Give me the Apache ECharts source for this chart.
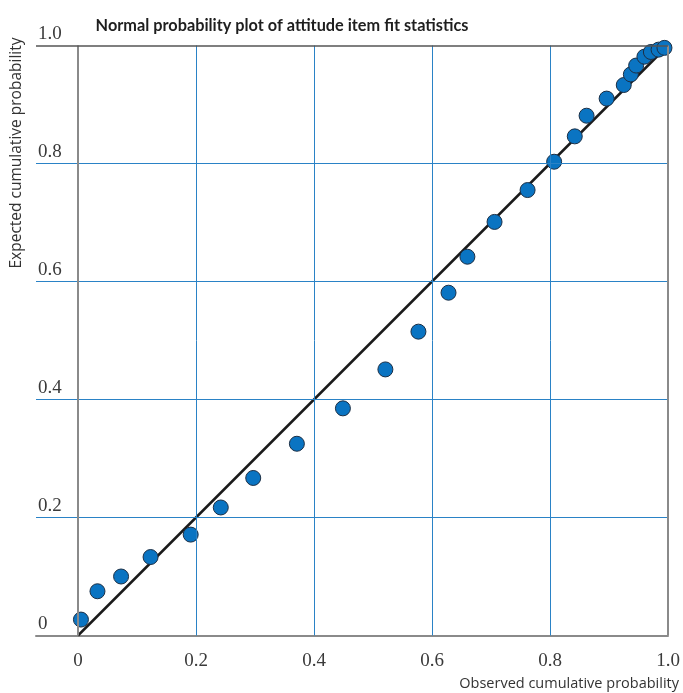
<!DOCTYPE html>
<html>
<head>
<meta charset="utf-8">
<script src="https://cdn.jsdelivr.net/npm/echarts@6/dist/echarts.min.js"></script>
<style>html,body{margin:0;padding:0;background:#fff}#c{width:683px;height:693px}</style>
</head>
<body>
<div id="c"></div>
<script>
var observed = [0.005,0.033,0.073,0.123,0.191,0.242,0.297,0.371,0.449,0.521,0.577,0.628,0.660,0.706,0.762,0.807,0.842,0.862,0.896,0.925,0.937,0.946,0.960,0.971,0.984,0.994];
var expected = [0.027,0.075,0.100,0.133,0.171,0.217,0.267,0.325,0.385,0.451,0.515,0.581,0.642,0.701,0.755,0.803,0.846,0.881,0.910,0.933,0.951,0.966,0.981,0.989,0.993,0.996];
var tickValues = [0, 0.2, 0.4, 0.6, 0.8, 1.0];
var innerGrid = [0.2, 0.4, 0.6, 0.8];
var refLine = [[0, 0], [1, 1]];
var titleText = 'Normal probability plot of attitude item fit statistics';
var xName = 'Observed cumulative probability';
var yName = 'Expected cumulative probability';

var fmt = function (v) { return v === 0 ? '0' : v.toFixed(1); };
var blue = '#2a82c6';
var gray = '#8a8a8a';

var pts = observed.map(function (x, i) { return [x, expected[i]]; });

var vLines = innerGrid.map(function (v) { return { xAxis: v }; });
var hLines = innerGrid.map(function (v) { return { yAxis: v }; });

var chart = echarts.init(document.getElementById('c'), null, { renderer: 'canvas' });
chart.setOption({
  animation: false,
  backgroundColor: '#fff',
  title: {
    text: titleText,
    left: 277, top: 13, textAlign: 'center',
    textStyle: { fontFamily: 'Lato, sans-serif', fontWeight: 'bold', fontSize: 16.3, color: '#1e1e1e' }
  },
  grid: { left: 36, right: 15, top: 45.5, bottom: 57.5 },
  xAxis: {
    type: 'value',
    min: -42 / 590, max: 1,
    axisLine: { show: true, lineStyle: { color: gray, width: 2 } },
    axisTick: { show: false },
    splitLine: { show: false },
    axisLabel: {
      customValues: tickValues,
      formatter: fmt,
      margin: 16,
      fontFamily: '"Liberation Serif", serif', fontSize: 19, color: '#3a3a3a'
    }
  },
  yAxis: {
    type: 'value',
    min: 0, max: 1, interval: 0.2,
    axisLine: { show: false },
    axisTick: { show: false },
    splitLine: { show: false },
    axisLabel: {
      inside: true, margin: 2, align: 'left', verticalAlign: 'bottom', padding: [0, 0, 2, 0],
      formatter: fmt,
      fontFamily: '"Liberation Serif", serif', fontSize: 19, color: '#3a3a3a'
    }
  },
  graphic: [
    { type: 'text', right: 4, top: 676, style: { text: xName, font: '14.5px "Open Sans", sans-serif', fill: '#333' } },
    { type: 'text', x: 17, y: 153, rotation: Math.PI / 2, style: { text: yName, font: '15.5px "Open Sans", sans-serif', fill: '#333', align: 'center', verticalAlign: 'middle' } }
  ],
  series: [
    {
      type: 'line', data: [], z: 1, silent: true,
      markLine: { silent: true, symbol: 'none', label: { show: false }, animation: false,
        lineStyle: { color: blue, width: 1, type: 'solid', opacity: 1 },
        data: vLines }
    },
    {
      type: 'line', data: [], z: 1, silent: true,
      markLine: { silent: true, symbol: 'none', label: { show: false }, animation: false,
        lineStyle: { color: blue, width: 1, type: 'solid', opacity: 1 },
        data: hLines }
    },
    {
      type: 'line', data: [], z: 1, silent: true,
      markLine: { silent: true, symbol: 'none', label: { show: false }, animation: false,
        lineStyle: { color: gray, width: 2, type: 'solid', opacity: 1 },
        data: [{ xAxis: 0 }, { xAxis: 1 }] }
    },
    {
      type: 'line', data: [], z: 1, silent: true,
      markLine: { silent: true, symbol: 'none', label: { show: false }, animation: false,
        lineStyle: { color: '#555', width: 1.5, type: 'solid', opacity: 1 },
        data: [{ yAxis: 1 }] }
    },
    {
      type: 'line', data: refLine, z: 2, symbol: 'none', silent: true,
      lineStyle: { color: '#1a1a1a', width: 2.5 }
    },
    {
      type: 'scatter', data: pts, z: 3, symbol: 'circle', symbolSize: 15,
      itemStyle: { color: '#0a74c2', borderColor: '#1c2f45', borderWidth: 1, opacity: 1 }
    }
  ]
});
</script>
</body>
</html>
